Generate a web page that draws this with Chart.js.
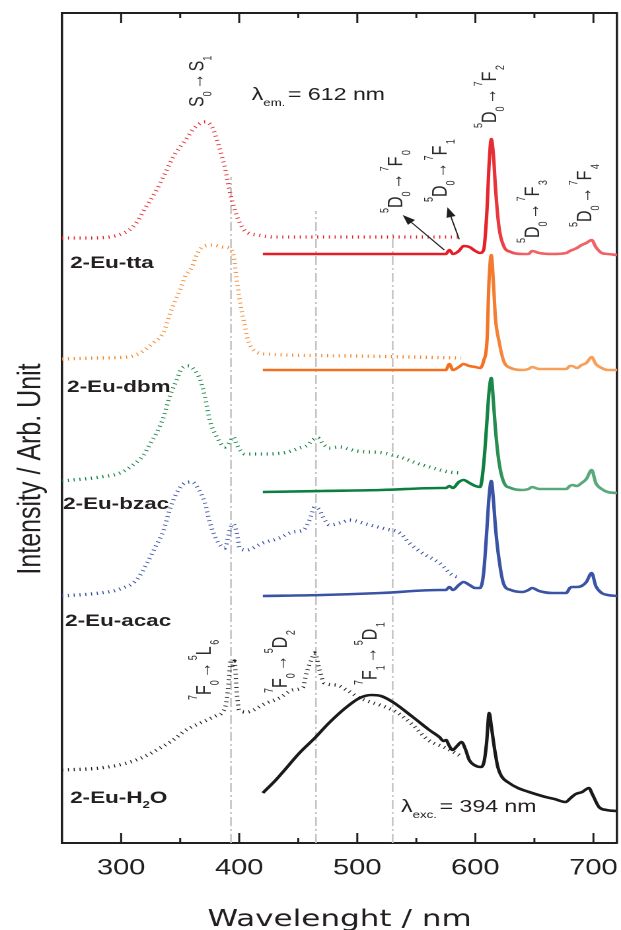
<!DOCTYPE html>
<html><head><meta charset="utf-8">
<script src="https://cdn.jsdelivr.net/npm/chart.js@4.4.1/dist/chart.umd.min.js"></script>
<style>html,body{margin:0;padding:0;background:#fff;}canvas{display:block;}</style>
</head><body>
<canvas id="c" width="470" height="930" style="width:621px;height:930px"></canvas>
<script>
// ---------------- data ----------------
const X_TICKS = [300, 400, 500, 600, 700];
const X_MINOR = [350, 450, 550, 650];

// excitation spectra (dotted), lambda_em = 612 nm
const ttaExNm  = [250, 270, 290, 300, 307, 314, 320, 329, 337, 345, 354, 362, 371, 377, 382, 385, 388, 391, 394.5, 399, 405, 416, 430, 500, 588];
const ttaExInt = [605, 605, 606, 609, 613, 622, 634, 651, 669, 688, 702, 715, 721, 716, 700, 688, 675, 657, 640, 624, 612, 608, 606, 606, 606];

const dbmExNm  = [250, 280, 305, 316, 327, 336, 341, 346, 350, 354, 360, 364, 369, 378, 386, 392, 395, 397.6, 400.4, 404.6, 407.4, 414.5, 423, 500, 588];
const dbmExInt = [484, 485, 486, 490, 500, 511, 528, 543, 553, 566, 576, 588, 596, 598, 596, 595, 588, 566, 543, 518, 503, 491, 489, 487, 485];

const bzacExNm  = [250, 282, 299, 310, 319, 324, 330, 336, 341, 347, 351, 357, 362, 367, 371, 375, 381, 388, 392, 395, 398, 405, 420, 437, 451, 458, 462, 466.6, 471, 476.5, 485, 499, 522, 536, 550, 564, 578, 588];
const bzacExInt = [362, 366, 370, 378, 388, 398, 410, 426, 446, 463, 474, 477, 473, 463, 446, 423, 406, 396, 401, 406, 398, 389, 389, 390, 395, 398, 403, 405, 399, 395, 396, 392, 390, 386, 380, 375, 371, 370];

const acacExNm  = [250, 282, 299, 313, 322, 329, 336, 341, 347, 354, 360, 365, 371, 375, 381, 388, 392, 395, 398, 400.4, 406, 420, 434, 445.5, 454.5, 459.6, 464, 468, 471, 476.5, 488, 493, 507.5, 524, 536, 544, 555, 569.5, 582, 588];
const acacExInt = [247, 250, 254, 263, 280, 296, 313, 333, 350, 360, 361, 355, 340, 321, 303, 295, 313, 319, 310, 295, 293, 300, 305, 311, 313, 323, 336, 333, 326, 318, 321, 323, 319, 314, 310, 300, 290, 280, 267, 266];

const h2oExNm  = [250, 282, 305, 319, 333, 344, 355, 369, 380, 386, 389, 391, 393, 394.5, 396, 398, 400, 406, 423, 434, 445.5, 454, 457, 461, 464, 468, 472, 482, 491, 502, 519, 533, 547, 560, 575, 586, 589];
const h2oExInt = [73, 75, 80, 86, 95, 103, 113, 121, 127, 131, 140, 160, 183, 175, 182, 150, 133, 131, 140, 145, 153, 156, 170, 183, 190, 173, 160, 158, 153, 145, 138, 131, 118, 103, 95, 88, 86];

// emission spectra (solid), lambda_exc = 394 nm
const EM_NM   = [420, 470, 520, 570, 575, 578, 581, 586, 590, 595, 600, 604, 607, 610, 611.5, 613.5, 615.5, 617, 620, 624, 630, 640, 645, 648, 654, 665, 677, 680, 682, 686, 690, 694, 698.5, 702, 707, 712, 720];
const ttaEm   = [589, 589, 589, 589, 589, 593, 589, 592, 597, 596, 592, 590, 593, 636, 676, 704, 685, 656, 616, 597, 591, 589, 589, 592, 590, 589, 590, 592, 593, 595, 598, 600, 603, 596, 590, 589, 588];
const dbmEm   = [473, 473, 473, 473, 473, 479, 473, 476, 479, 477, 476, 475, 482, 505, 560, 588, 556, 525, 502, 482, 475, 473, 474, 476, 474, 474, 474, 477, 477, 475, 478, 480, 486, 479, 475, 473, 473];
const bzacEm  = [351, 352, 353, 355, 355, 357, 355, 361, 363, 360, 357, 356, 378, 425, 450, 465, 438, 414, 381, 361, 355, 353, 354, 356, 354, 354, 354, 357, 358, 357, 360, 364, 373, 360, 354, 351, 350];
const acacEm  = [247, 248, 250, 253, 253, 256, 253, 258, 261, 258, 255, 255, 270, 318, 345, 362, 340, 316, 284, 259, 253, 251, 253, 255, 252, 250, 250, 255, 256, 256, 257, 261, 270, 257, 250, 248, 247];

const h2oEmNm = [420, 431, 437, 451, 464, 476, 491, 502, 512, 520, 530, 547, 561, 569.5, 573, 575.2, 577.5, 580.7, 584.5, 588.3, 591.5, 594.8, 599, 604.7, 607.5, 609.5, 611.7, 613.5, 616, 619, 622, 628.6, 636, 645.5, 659.5, 667, 676.5, 680.7, 685, 690.5, 696.2, 699, 704.7, 711, 720];
const h2oEm   = [50, 63, 71, 90, 105, 120, 136, 145, 148, 147, 141, 126, 113, 106, 102, 103, 98, 93, 97, 101, 94, 83, 78, 76, 82, 100, 130, 117, 96, 76, 67, 60, 55, 51, 46, 44, 41, 45, 49, 51, 55, 49, 36, 33, 32];

// vertical reference lines (nm) and their upper ends
const LINE_NM  = [393, 465, 530];
const LINE_TOP = [666, 632, 612];

// ---------------- styling / helpers ----------------
const FAM = '"Liberation Sans", Arial, sans-serif';
const INK = '#231f20';
const pts = (xs, ys) => xs.map((x, i) => ({ x: x, y: ys[i] }));

function grad(dark, light) {
  return (c) => {
    const ch = c.chart;
    if (!ch.chartArea) return dark;
    const x0 = ch.scales.x.getPixelForValue(606), x1 = ch.scales.x.getPixelForValue(640);
    const g = ch.ctx.createLinearGradient(x0, 0, x1, 0);
    g.addColorStop(0, dark); g.addColorStop(1, light);
    return g;
  };
}
const solid = (label, xs, ys, color) => ({
  label, data: pts(xs, ys), borderColor: color, borderWidth: 2.6, pointRadius: 0,
  cubicInterpolationMode: 'monotone', borderJoinStyle: 'round', fill: false
});
const dotted = (label, xs, ys, color) => ({
  label, data: pts(xs, ys), borderColor: color, borderWidth: 3.3, borderDash: [0.8, 3.6], pointRadius: 0,
  cubicInterpolationMode: 'monotone', fill: false
});

const datasets = [
  solid('2-Eu-H2O em', h2oEmNm, h2oEm, '#1a1a1a'),
  solid('2-Eu-tta em', EM_NM, ttaEm, grad('#e41e26', '#ef6266')),
  solid('2-Eu-dbm em', EM_NM, dbmEm, grad('#f37021', '#f6a05c')),
  solid('2-Eu-bzac em', EM_NM, bzacEm, grad('#0b7f3e', '#5aa97b')),
  solid('2-Eu-acac em', EM_NM, acacEm, '#3a53a4'),
  dotted('2-Eu-tta ex', ttaExNm, ttaExInt, '#e31e24'),
  dotted('2-Eu-dbm ex', dbmExNm, dbmExInt, '#f58220'),
  dotted('2-Eu-bzac ex', bzacExNm, bzacExInt, '#0a7d3c'),
  dotted('2-Eu-acac ex', acacExNm, acacExInt, '#2e49a0'),
  dotted('2-Eu-H2O ex', h2oExNm, h2oExInt, '#1a1a1a'),
  ...LINE_NM.map((x, i) => ({
    label: 'ref ' + x, data: [{ x: x, y: 0 }, { x: x, y: LINE_TOP[i] }],
    borderColor: '#c4c4c4', borderWidth: 1.3, borderDash: [9, 3, 2, 3], pointRadius: 0
  }))
];

// ---------------- annotations ----------------
const SUP = { s: 9, dy: -10.5 }, SUB = { s: 9, dy: 6 };
const ARW = { t: '\u2192', s: 16, gap: 2 };
const tr = (a, A, an, b, B, bn) => [
  { t: a, ...SUP }, { t: A, s: 16 }, { t: an, ...SUB, gap: 2 }, ARW,
  { t: b, ...SUP }, { t: B, s: 16, gap: 1.5 }, { t: bn, ...SUB }
];
const ROT_LABELS = [
  { at: [370.0, 736], parts: [{ t: 'S', s: 16 }, { t: '0', ...SUB, gap: 2 }, ARW, { t: 'S', s: 16 }, { t: '1', ...SUB }] },
  { at: [538.2, 630], parts: tr('5', 'D', '0', '7', 'F', '0') },
  { at: [575.4, 641], parts: tr('5', 'D', '0', '7', 'F', '1') },
  { at: [617.4, 715], parts: tr('5', 'D', '0', '7', 'F', '2') },
  { at: [654.0, 600], parts: tr('5', 'D', '0', '7', 'F', '3') },
  { at: [697.9, 616], parts: tr('5', 'D', '0', '7', 'F', '4') },
  { at: [375.9, 143], parts: tr('7', 'F', '0', '5', 'L', '6') },
  { at: [440.1, 150], parts: tr('7', 'F', '0', '5', 'D', '2') },
  { at: [516.2, 158], parts: tr('7', 'F', '1', '5', 'D', '1') }
];
const H_LABELS = [
  { at: [410.6, 743], parts: [{ t: '\u03bb', s: 17.5 }, { t: 'em.', s: 10, dy: 6, gap: 2 }, { t: '= 612 nm', s: 17.5 }] },
  { at: [537.1, 31], parts: [{ t: '\u03bb', s: 17.5 }, { t: 'exc.', s: 10, dy: 6, gap: 2 }, { t: '= 394 nm', s: 17.5 }] },
  { at: [256.8, 575], parts: [{ t: '2-Eu-tta', s: 17, w: 'bold' }] },
  { at: [254.2, 451], parts: [{ t: '2-Eu-dbm', s: 17, w: 'bold' }] },
  { at: [250.8, 334], parts: [{ t: '2-Eu-bzac', s: 17, w: 'bold' }] },
  { at: [252.5, 217], parts: [{ t: '2-Eu-acac', s: 17, w: 'bold' }] },
  { at: [256.8, 40], parts: [{ t: '2-Eu-H', s: 17, w: 'bold' }, { t: '2', s: 10, w: 'bold', dy: 5 }, { t: 'O', s: 17, w: 'bold' }] }
];
const ARROWS = [
  { from: [573.7, 593], to: [538.4, 628] },
  { from: [586.3, 603.7], to: [576.4, 635.7] }
];

function drawParts(ctx, x, y, parts, rot) {
  ctx.save();
  ctx.translate(x, y);
  if (rot) ctx.rotate(-Math.PI / 2);
  let cx = 0;
  for (const p of parts) {
    ctx.font = (p.w || 'normal') + ' ' + p.s + 'px ' + FAM;
    ctx.fillText(p.t, cx, p.dy || 0);
    cx += ctx.measureText(p.t).width + (p.gap || 0);
  }
  ctx.restore();
}

const annot = {
  id: 'annot',
  afterDraw(chart) {
    const ctx = chart.ctx, X = chart.scales.x, Y = chart.scales.y, A = chart.chartArea;
    const px = v => X.getPixelForValue(v), py = v => Y.getPixelForValue(v);
    ctx.save();
    // inward ticks top & bottom
    ctx.strokeStyle = INK; ctx.lineWidth = 1.5;
    [[X_TICKS, 10], [X_MINOR, 5]].forEach(([vals, len]) => vals.forEach(v => {
      const x = px(v);
      ctx.beginPath();
      ctx.moveTo(x, A.bottom); ctx.lineTo(x, A.bottom - len);
      ctx.moveTo(x, A.top); ctx.lineTo(x, A.top + len);
      ctx.stroke();
    }));
    ctx.fillStyle = INK; ctx.textBaseline = 'alphabetic'; ctx.textAlign = 'left';
    // y title
    ctx.save();
    ctx.translate(A.left - 16.7, 469);
    ctx.rotate(-Math.PI / 2);
    ctx.textAlign = 'center';
    ctx.font = '25px ' + FAM;
    ctx.fillText('Intensity / Arb. Unit', 0, 0);
    ctx.restore();
    // labels
    ctx.fillStyle = '#2b2b2b';
    ROT_LABELS.forEach(l => drawParts(ctx, px(l.at[0]), py(l.at[1]), l.parts, true));
    ctx.fillStyle = INK;
    H_LABELS.forEach(l => drawParts(ctx, px(l.at[0]), py(l.at[1]), l.parts, false));
    // arrows
    ctx.strokeStyle = INK; ctx.lineWidth = 1;
    ARROWS.forEach(a => {
      const x0 = px(a.from[0]), y0 = py(a.from[1]), x1 = px(a.to[0]), y1 = py(a.to[1]);
      const ang = Math.atan2(y1 - y0, x1 - x0), L = 10, W = 3.6;
      const bx = x1 - L * Math.cos(ang), by = y1 - L * Math.sin(ang);
      ctx.beginPath(); ctx.moveTo(x0, y0); ctx.lineTo(bx, by); ctx.stroke();
      ctx.beginPath();
      ctx.moveTo(x1, y1);
      ctx.lineTo(bx + W * Math.sin(ang), by - W * Math.cos(ang));
      ctx.lineTo(bx - W * Math.sin(ang), by + W * Math.cos(ang));
      ctx.closePath(); ctx.fill();
    });
    ctx.restore();
  }
};

const border = { display: true, color: INK, width: 2 };
new Chart(document.getElementById('c'), {
  type: 'line',
  data: { datasets },
  options: {
    responsive: false, devicePixelRatio: 2, animation: false, events: [],
    layout: { padding: 0 },
    plugins: { legend: { display: false }, tooltip: { enabled: false } },
    scales: {
      x: {
        type: 'linear', position: 'bottom', min: 250, max: 720,
        afterBuildTicks: s => { s.ticks = X_TICKS.map(v => ({ value: v })); },
        afterFit: s => { s.height = 87; s.paddingLeft = 0; s.paddingRight = 0; },
        grid: { display: true, drawOnChartArea: false, drawTicks: true, tickLength: 12, tickColor: 'rgba(0,0,0,0)' },
        border,
        ticks: { color: INK, font: { family: FAM, size: 22 }, padding: 0, maxRotation: 0, autoSkip: false },
        title: { display: true, text: 'Wavelenght / nm', color: INK, font: { family: '"DejaVu Sans", sans-serif', size: 23.5 }, padding: { top: 0, bottom: -4 } }
      },
      x2: {
        type: 'linear', position: 'top', min: 250, max: 720,
        afterFit: s => { s.height = 13; s.paddingLeft = 0; s.paddingRight = 0; },
        grid: { display: false }, ticks: { display: false }, border
      },
      y: {
        type: 'linear', position: 'left', min: 0, max: 830,
        afterFit: s => { s.width = 47; },
        grid: { display: false }, ticks: { display: false }, border: { display: true, color: INK, width: 1.75 }
      },
      y2: {
        type: 'linear', position: 'right', min: 0, max: 830,
        afterFit: s => { s.width = 3; },
        grid: { display: false }, ticks: { display: false }, border: { display: true, color: INK, width: 1.75 }
      }
    }
  },
  plugins: [annot]
});
</script>
</body></html>
